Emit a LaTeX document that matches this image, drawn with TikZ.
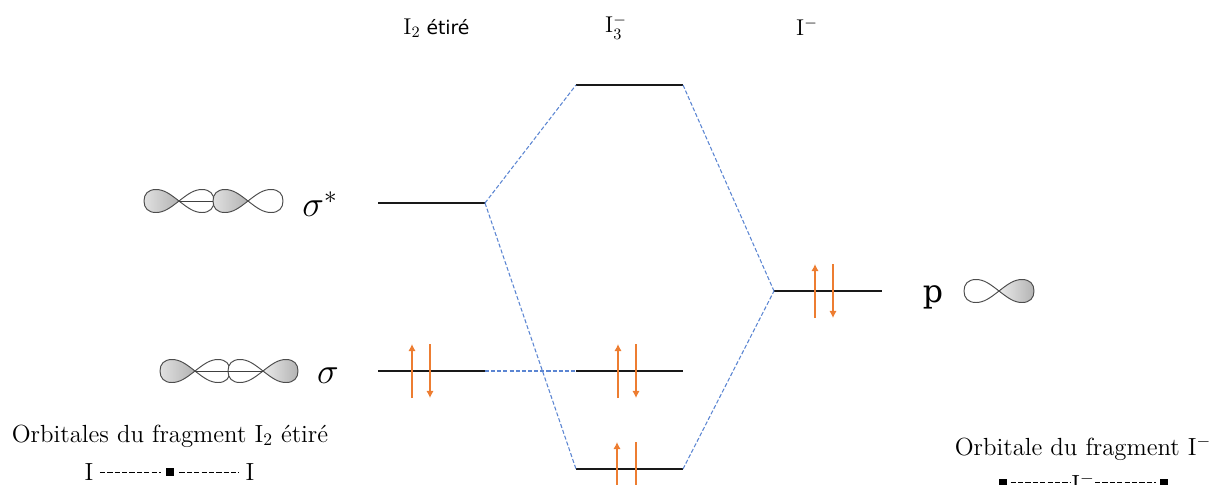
\documentclass[tikz,border=0pt]{standalone}
\usepackage{amsmath,amssymb}
\usepackage{fontspec}
\usepackage{tikz}
\usetikzlibrary{arrows.meta}
\newfontfamily\headfont{DejaVu Sans}
\newfontfamily\pfont{DejaVu Serif}
\definecolor{dashblue}{HTML}{5B85D2}
\definecolor{spinorange}{HTML}{ED7D31}
\tikzset{
  level/.style={line width=1pt,black!90},
  corr/.style={dashblue,line width=0.6pt,dash pattern=on 2.3pt off 1.2pt},
  spin/.style={spinorange,line width=0.9pt,-{Latex[length=4pt,width=4.2pt]}},
  head/.style={font=\fontsize{10.7}{12}\headfont},
  orbname/.style={font=\fontsize{22}{26}\selectfont},
  legend/.style={font=\fontsize{14.1}{16}\selectfont,inner sep=0pt},
  atomdash/.style={black,line width=0.5pt,dash pattern=on 3pt off 1.2pt},
  centre/.style={fill=black,inner sep=0pt,minimum size=0.15cm},
  filledlobe/.style={left color=white!88!black,right color=white!70!black},
  farlobe/.style={left color=white!92!black,right color=white!70!black},
  emptylobe/.style={fill=white},
  pics/lobe/.style={code={
    \draw[line width=0.55pt,black!70,#1] (0,0) .. controls (9,7) and (15,11.5) .. (23,11.5)
      .. controls (31,11.5) and (35,7) .. (35,0) .. controls (35,-7) and (31,-11.5) .. (23,-11.5)
      .. controls (15,-11.5) and (9,-7) .. (0,0) -- cycle;
  }},
}
\begin{document}
\begin{tikzpicture}[x=0.02cm,y=-0.02cm]
\useasboundingbox (0,0) rectangle (1211,484);
\coordinate (sstarL) at (378,203);
\coordinate (sstarR) at (485,203);
\coordinate (sigL) at (378,371);
\coordinate (sigR) at (485,371);
\coordinate (topL) at (576,85);
\coordinate (topR) at (683,85);
\coordinate (midL) at (576,371);
\coordinate (midR) at (683,371);
\coordinate (lowL) at (576,469);
\coordinate (lowR) at (683,469);
\coordinate (pL) at (774,291);
\coordinate (pR) at (882,291);
\draw[level] (sstarL) -- (sstarR);
\draw[level] (sigL) -- (sigR);
\draw[level] (topL) -- (topR);
\draw[level] (midL) -- (midR);
\draw[level] (lowL) -- (lowR);
\draw[level] (pL) -- (pR);
\draw[corr] (sstarR) -- (topL);
\draw[corr] (sstarR) -- (lowL);
\draw[corr] (sigR) -- (midL);
\draw[corr] (topR) -- (pL);
\draw[corr] (lowR) -- (pL);
\foreach \xa/\ya in {412/371,618/371,617/469,815/291}
  \draw[spin] (\xa,\ya+27) -- (\xa,\ya-27);
\foreach \xa/\ya in {430/371,636/371,636/469,833/291}
  \draw[spin] (\xa,\ya-27) -- (\xa,\ya+27);
\pic[xscale=-1] at (179,201) {lobe=filledlobe};
\pic at (179,201) {lobe=emptylobe};
\pic[xscale=-1] at (248,201) {lobe=filledlobe};
\pic at (248,201) {lobe=emptylobe};
\draw[line width=0.55pt,black!75] (179,201) -- (213,201);
\pic[xscale=-1] at (195,371) {lobe=filledlobe};
\pic at (195,371) {lobe=emptylobe};
\pic[xscale=-1] at (263,371) {lobe=emptylobe};
\pic at (263,371) {lobe=farlobe};
\draw[line width=0.55pt,black!75] (195,371) -- (263,371);
\pic[xscale=-1] at (999,291) {lobe=emptylobe};
\pic at (999,291) {lobe=farlobe};
\node[orbname] (sstarname) at (320,204) {$\sigma^*$};
\node[orbname] (signame) at (328,376) {$\sigma$};
\node[font=\fontsize{18}{22}\pfont] (pname) at (933,297) {p};
\node[head] (hI2) at (436.5,28) {{\fontsize{13}{14}\selectfont$\mathrm{I}_2$} étiré};
\node[head] (hI3) at (616,27) {\fontsize{13}{14}\selectfont$\mathrm{I}_3^-$};
\node[head] (hI) at (807,27) {\fontsize{13}{14}\selectfont$\mathrm{I}^-$};
\node[legend] (legI2) at (170,436) {Orbitales du fragment I$_2$ étiré};
\node[legend] (atomA) at (89,472) {I};
\node[centre] (mid) at (170,472) {};
\node[legend] (atomB) at (250,472) {I};
\draw[atomdash,shorten <=3.5pt,shorten >=3pt] (atomA) -- (mid);
\draw[atomdash,shorten <=3pt,shorten >=3.5pt] (mid) -- (atomB);
\node[legend] (legI) at (1083,448) {Orbitale du fragment I$^-$};
\node[centre] (endA) at (1003,482.5) {};
\node[centre] (endB) at (1164,482.5) {};
\node[legend] (ion) at (1083,482.5) {I$^-$};
\draw[atomdash,shorten <=2pt] (endA) -- (ion);
\draw[atomdash,shorten >=2pt] (ion) -- (endB);
\end{tikzpicture}
\end{document}
